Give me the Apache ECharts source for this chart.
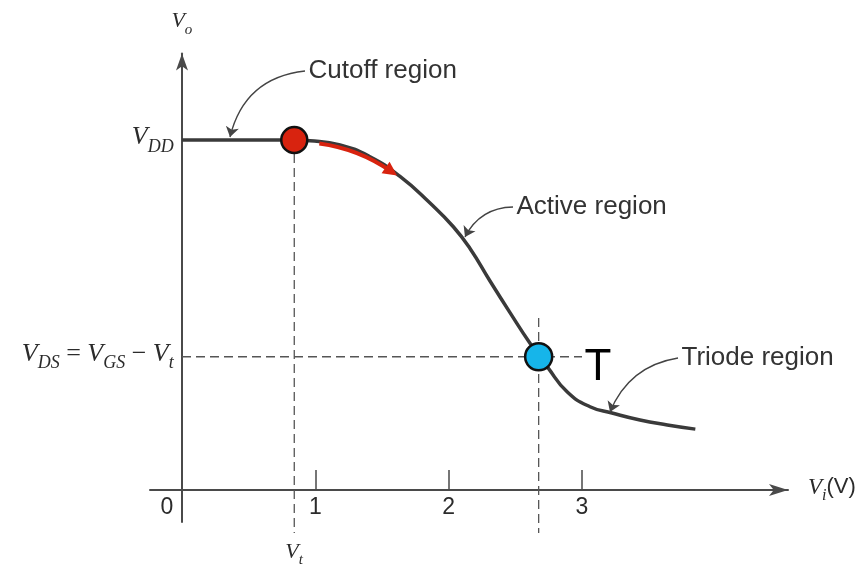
<!DOCTYPE html>
<html>
<head>
<meta charset="utf-8">
<script src="https://cdn.jsdelivr.net/npm/echarts@6/dist/echarts.min.js"></script>
<style>
  html, body { margin: 0; padding: 0; background: #fff; }
  #main { width: 865px; height: 567px; }
</style>
</head>
<body>
<div id="main"></div>
<script>
// transfer curve Vo(Vi), VDD taken as 5 units
var vin  = [0, 0.842, 0.96, 1.185, 1.41, 1.635, 1.86, 2.035, 2.16, 2.31, 2.46, 2.61, 2.74, 2.89, 3.06, 3.225, 3.435, 3.64, 3.85];
var vout = [5, 5, 4.99, 4.93, 4.76, 4.48, 4.10, 3.761, 3.45, 2.986, 2.534, 2.096, 1.76, 1.40, 1.19, 1.10, 1.00, 0.93, 0.87];

var vt = 0.842;
var vdd = 5;
var vdsLevel = 1.904;          // VDS = VGS - Vt
var tPoint = [2.675, 1.904];

var xTickValues = [1, 2, 3];
var xLabelValues = [0, 1, 2, 3];

// red arrow along the curve
var redFrom = [1.03, 4.95];
var redTo = [1.57, 4.55];

// region notes: text, arrow start, arrow tip
var noteText = ['Cutoff region', 'Active region', 'Triode region'];
var noteFrom = [[0.9225, 5.986], [2.4825, 4.043], [3.72, 1.886]];
var noteTo   = [[0.36, 5.043], [2.1225, 3.614], [3.21, 1.114]];
var noteBend = [-0.35, -0.3, -0.28];

var ink = '#2b2b2b';
var axisInk = '#4a4a4a';

function mathStyles(name, size, sub) {
  var r = {};
  r['v' + name] = { fontFamily: 'Liberation Serif', fontStyle: 'italic', fontSize: size, lineHeight: size, verticalAlign: 'top', color: ink };
  r['s' + name] = { fontFamily: 'Liberation Serif', fontStyle: 'italic', fontSize: sub, lineHeight: sub, verticalAlign: 'bottom', color: ink };
  r['n' + name] = { fontFamily: 'Liberation Serif', fontSize: size, lineHeight: size, verticalAlign: 'top', color: ink };
  r['u' + name] = { fontFamily: 'Liberation Sans', fontSize: size - 1, lineHeight: size, verticalAlign: 'top', color: ink };
  r['h' + name] = { fontSize: 1, lineHeight: Math.round(size * 1.23) };
  return r;
}
function merge() {
  var out = {};
  for (var i = 0; i < arguments.length; i++) {
    for (var k in arguments[i]) out[k] = arguments[i][k];
  }
  return out;
}

var yRich = merge(mathStyles('', 26, 18), mathStyles('2', 26, 18));

function dashed(points) {
  return {
    type: 'line', data: points, symbol: 'none', clip: false, silent: true, z: 1,
    lineStyle: { color: '#555', width: 1.3, type: [9, 5] }
  };
}

var chart = echarts.init(document.getElementById('main'));

var option = {
  animation: false,
  backgroundColor: '#fff',
  grid: { left: 150, right: 77, top: 53.5, bottom: 45, outerBoundsMode: 'none' },
  xAxis: {
    type: 'value', min: -0.24, max: 4.545,
    axisLine: { onZero: true, lineStyle: { color: axisInk, width: 2 }, symbol: ['none', 'arrow'], symbolSize: [9, 19] },
    axisTick: { show: true, inside: true, length: 20, customValues: xTickValues, lineStyle: { color: axisInk, width: 1.5 } },
    axisLabel: {
      customValues: xLabelValues, margin: -26,
      fontFamily: 'Liberation Sans', fontSize: 23, color: ink,
      formatter: function (v) { return v === 0 ? '{z|0}' : String(v); },
      rich: { z: { padding: [0, 30, 0, 0], fontFamily: 'Liberation Sans', fontSize: 23, color: ink } }
    },
    splitLine: { show: false },
    name: '{v|V}{s|i}{u|(V)}{h| }', nameLocation: 'end', nameGap: 20,
    nameTextStyle: { rich: mathStyles('', 23, 16) }
  },
  yAxis: {
    type: 'value', min: -0.457, max: 6.236,
    axisLine: { onZero: true, lineStyle: { color: axisInk, width: 2 }, symbol: ['none', 'arrow'], symbolSize: [9, 17] },
    axisTick: { show: false },
    axisLabel: {
      customValues: [vdsLevel, vdd], margin: -24,
      formatter: function (v) {
        if (v === vdd) return '{v|V}{s|DD}{h| }';
        return '{v2|V}{s2|DS}{n2| = }{v2|V}{s2|GS}{n2| − }{v2|V}{s2|t}{h2| }';
      },
      rich: yRich
    },
    splitLine: { show: false },
    name: '{v|V}{s|o}{h| }', nameLocation: 'end', nameGap: 16,
    nameTextStyle: { rich: mathStyles('', 22, 15) }
  },
  series: [
    dashed([[vt, vdd], [vt, -0.614]]),
    dashed([[0, vdsLevel], [3.0, vdsLevel]]),
    dashed([[tPoint[0], 2.457], [tPoint[0], -0.614]]),
    {
      type: 'line', smooth: 0.5, symbol: 'none', silent: true, z: 3,
      data: vin.map(function (x, i) { return [x, vout[i]]; }),
      lineStyle: { color: '#3a3a3a', width: 3.5 }
    },
    {
      type: 'lines', coordinateSystem: 'cartesian2d', silent: true, z: 4,
      data: [{ coords: [redFrom, redTo] }],
      lineStyle: { color: '#d8230f', width: 4, curveness: 0.12, opacity: 1 },
      symbol: ['none', 'triangle'], symbolSize: 14
    },
    {
      type: 'lines', coordinateSystem: 'cartesian2d', silent: true, z: 4,
      data: noteText.map(function (t, i) {
        return { coords: [noteFrom[i], noteTo[i]], lineStyle: { curveness: noteBend[i] } };
      }),
      lineStyle: { color: '#444', width: 1.3, opacity: 1 },
      symbol: ['none', 'arrow'], symbolSize: 10
    },
    {
      type: 'scatter', silent: true, z: 5, symbolSize: 1,
      itemStyle: { color: 'transparent', opacity: 1 },
      data: noteText.map(function (t, i) { return { name: t, value: noteFrom[i] }; }),
      label: { show: true, position: 'right', distance: 3, formatter: '{b}', fontFamily: 'Liberation Sans', fontSize: 26, color: '#333' }
    },
    {
      type: 'scatter', silent: true, z: 5, symbolSize: 1, clip: false,
      itemStyle: { color: 'transparent', opacity: 1 },
      data: [[vt, -0.921]],
      label: { show: true, position: 'inside', formatter: '{v|V}{s|t}{h| }', rich: mathStyles('', 22, 15) }
    },
    {
      type: 'scatter', silent: true, z: 6, symbolSize: 26,
      data: [[vt, vdd]],
      itemStyle: { color: '#d8230f', borderColor: '#111', borderWidth: 2.5, opacity: 1 }
    },
    {
      type: 'scatter', silent: true, z: 6, symbolSize: 27,
      data: [tPoint],
      itemStyle: { color: '#16b5ea', borderColor: '#111', borderWidth: 2.5, opacity: 1 },
      label: { show: true, formatter: 'T', position: 'right', distance: 31, offset: [0, 11], fontFamily: 'Liberation Sans', fontSize: 44, color: '#000' }
    }
  ]
};

chart.setOption(option);
</script>
</body>
</html>
